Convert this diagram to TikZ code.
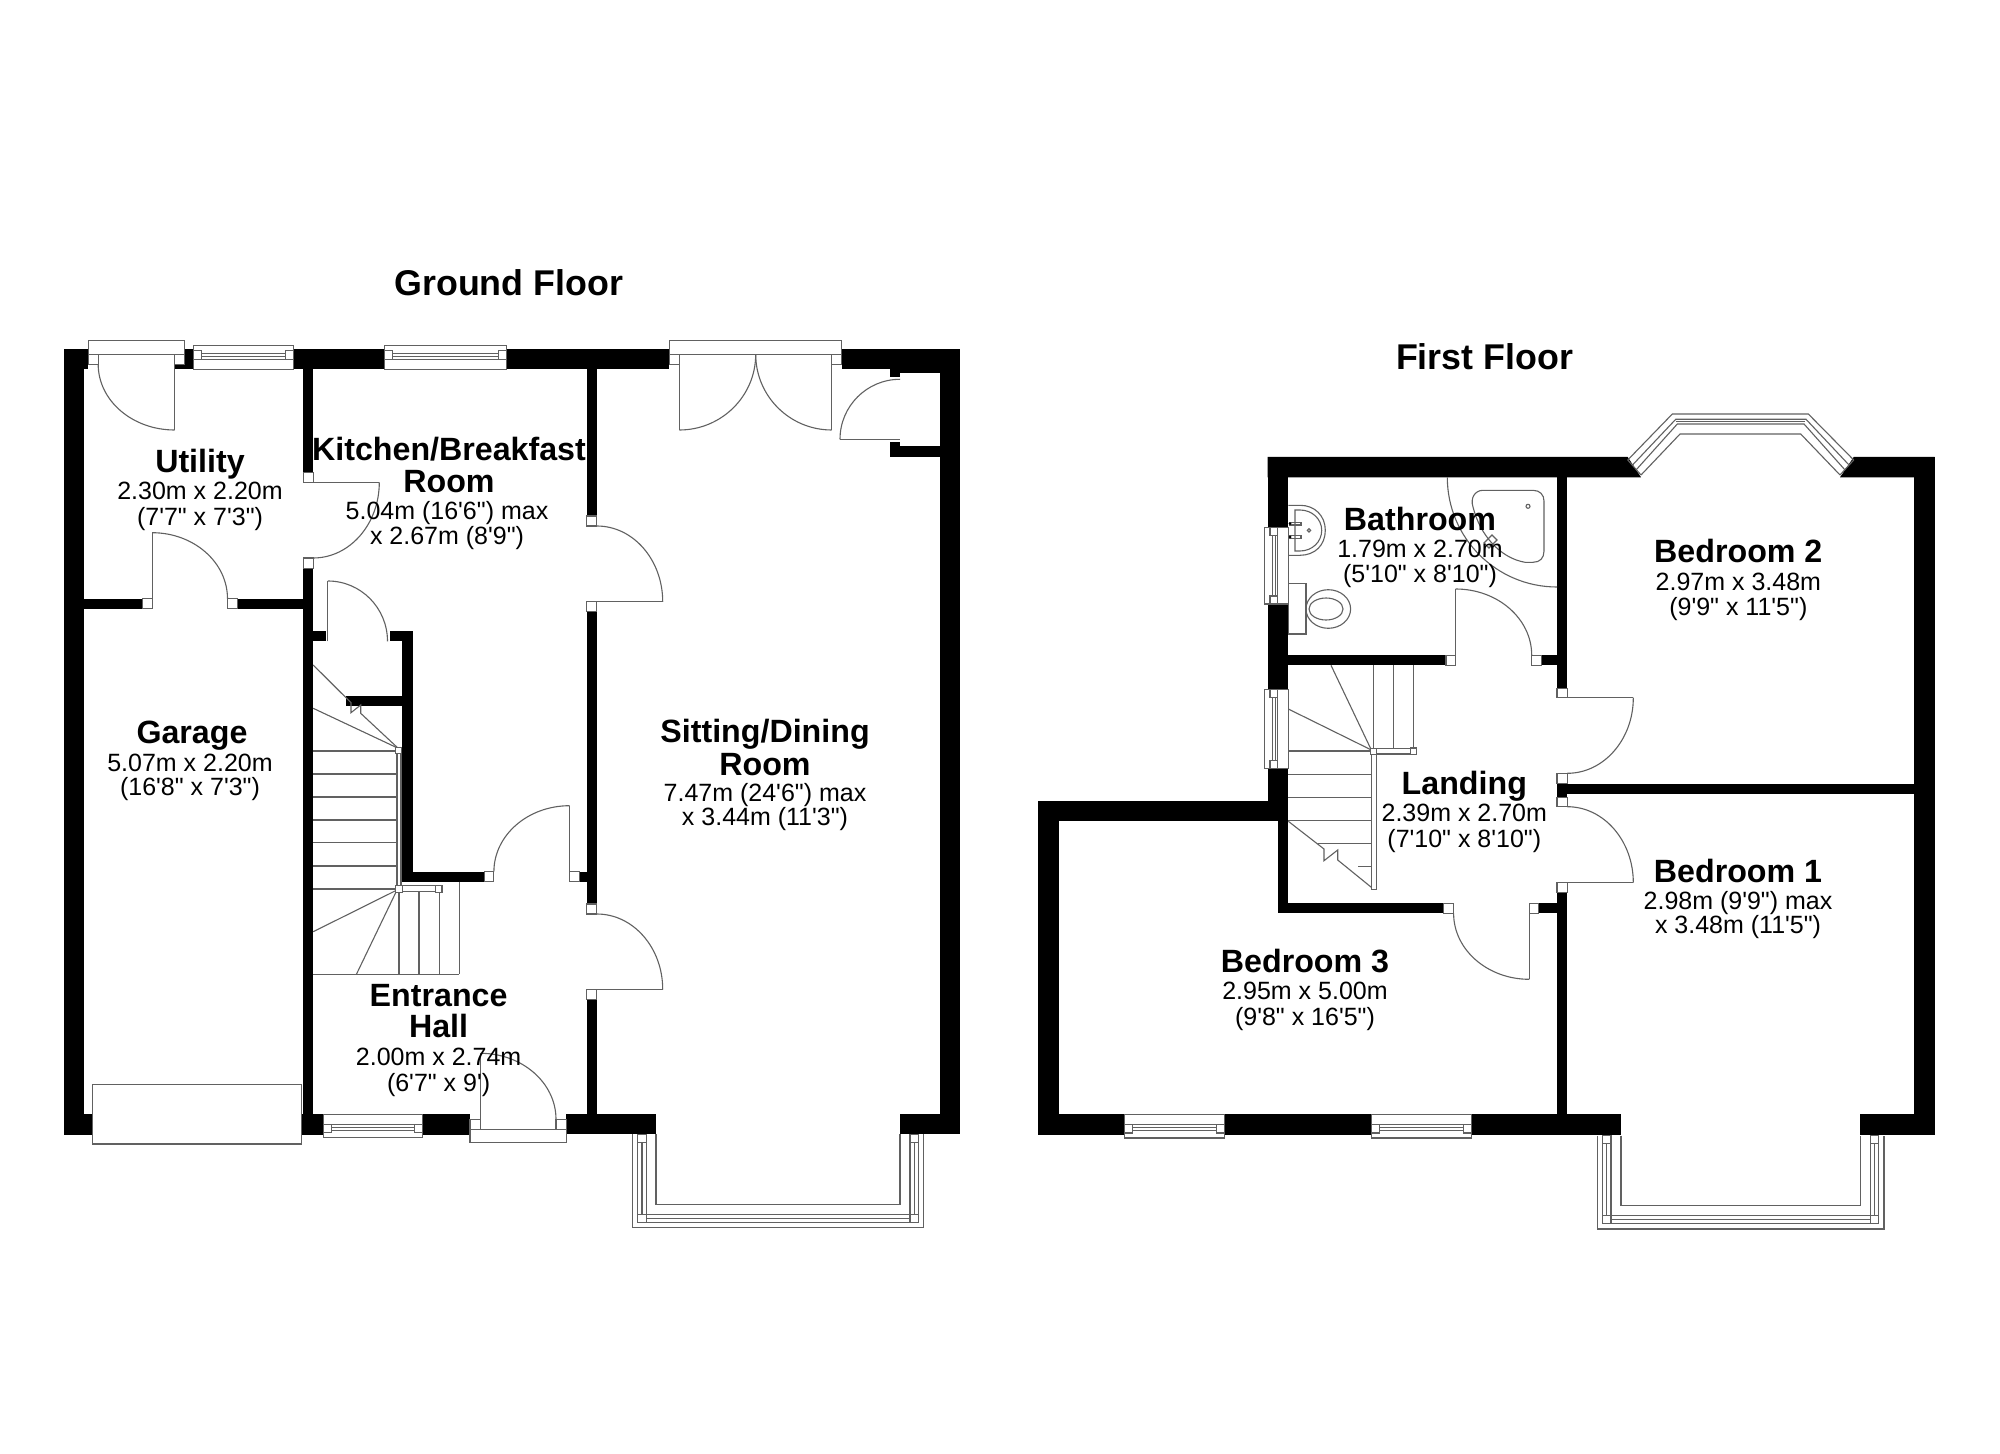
\documentclass[tikz,border=0pt]{standalone}
\usepackage{fontspec}
\usetikzlibrary{calc}
\newfontfamily\planfont{Liberation Sans}
\tikzset{
  ln/.style={draw=black!62,line width=0.55pt,line join=miter},
  lnw/.style={ln,fill=white},
  head/.style={anchor=base,inner sep=0pt,font=\planfont\bfseries\fontsize{16.1}{18}\selectfont},
  titl/.style={anchor=base,inner sep=0pt,font=\planfont\bfseries\fontsize{17.9}{20}\selectfont},
  det/.style={anchor=base,inner sep=0pt,font=\planfont\fontsize{12.5}{14}\selectfont},
}
\newcommand\Wl[4]{\fill[black] (#1,#2) rectangle (#3,#4);}
\newcommand\Sq[4]{\draw[lnw] (#1,#2) rectangle (#3,#4);}
\newcommand\Qarc[6]{\draw[ln] (#1,#2) .. controls ($(#1,#2)!0.5523!(#5,#6)$) and ($(#3,#4)!0.5523!(#5,#6)$) .. (#3,#4);}
\newcommand\Li[4]{\draw[ln] (#1,#2) -- (#3,#4);}
% horizontal window: x0, length, outer y, direction
\newcommand\HWin[4]{\begin{scope}[shift={(#1,#3)},yscale=#4]
  \draw[lnw] (0,0) rectangle (#2,23.6);
  \draw[ln] (0,13.6) -- (#2,13.6);
  \draw[lnw] (0,5) rectangle (8,13.6);
  \draw[lnw] (#2-8,5) rectangle (#2,13.6);
  \draw[ln] (8,7.4) -- (#2-8,7.4) (8,10.6) -- (#2-8,10.6);
\end{scope}}
% vertical window: outer x, y0, length
\newcommand\VWin[3]{\begin{scope}[shift={(#1,#2)}]
  \draw[lnw] (0,0) rectangle (24,#3);
  \draw[ln] (13.3,0) -- (13.3,#3);
  \draw[lnw] (5.7,0) rectangle (13.3,8);
  \draw[lnw] (5.7,#3-8) rectangle (13.3,#3);
  \draw[ln] (7.9,8) -- (7.9,#3-8) (11.1,8) -- (11.1,#3-8);
\end{scope}}
% bay window below the wall
\newcommand\Bay[9]{%
  % #1 out L, #2 mid1 L, #3 mid2 L, #4 in L, #5 in R, #6 mid2 R, #7 mid1 R, #8 out R, #9 top y
  \draw[ln] (#1,#9) -- (#1,#9+93.5) -- (#8,#9+93.5) -- (#8,#9);
  \draw[ln] (#4,#9) -- (#4,#9+70) -- (#5,#9+70) -- (#5,#9);
  \draw[ln] (#2,#9) -- (#2,#9+88) -- (#7,#9+88) -- (#7,#9);
  \draw[ln] (#3,#9) -- (#3,#9+80) -- (#6,#9+80) -- (#6,#9);
  \draw[ln] (#2/2+#3/2,#9+8) -- (#2/2+#3/2,#9+80);
  \draw[ln] (#6/2+#7/2,#9+8) -- (#6/2+#7/2,#9+80);
  \draw[ln] (#3,#9+84) -- (#6,#9+84);
  \draw[lnw] (#2,#9) rectangle (#3,#9+8);
  \draw[lnw] (#6,#9) rectangle (#7,#9+8);
  \draw[lnw] (#2,#9+80) rectangle (#3,#9+88);
  \draw[lnw] (#6,#9+80) rectangle (#7,#9+88);
}
\begin{document}
\begin{tikzpicture}[x=0.5pt,y=-0.5pt]
\useasboundingbox (0,0) rectangle (2000,1454);
\fill[white] (0,0) rectangle (2000,1454);

%%%%%%%%%% GROUND FLOOR walls
\Wl{63.6}{349}{83.9}{1134.7}
\Wl{63.6}{349}{88.2}{369.3}
\Wl{175}{349}{193.9}{369.3}
\Wl{293.2}{349}{384.6}{369.3}
\Wl{506.4}{349}{669.3}{369.3}
\Wl{841.7}{349}{960}{369.3}
\Wl{900}{349}{960}{372.7}
\Wl{890}{369}{900}{377.3}
\Wl{890}{441.7}{900}{456.7}
\Wl{890}{446.3}{939.7}{456.7}
\Wl{939.7}{349}{960}{1134.3}
\Wl{303.2}{349}{313.2}{472.7}
\Wl{303.2}{568.3}{313.2}{1134.7}
\Wl{83.9}{598.7}{142.5}{608.7}
\Wl{237.5}{598.7}{303.2}{608.7}
\Wl{313.2}{631}{325.7}{641.3}
\Wl{389.6}{631}{412.5}{641.3}
\Wl{401.8}{631}{412.5}{881.7}
\Wl{346.4}{696}{401.8}{706}
\Wl{401.8}{871.7}{484.3}{881.7}
\Wl{579.6}{871.7}{590}{881.7}
\Wl{586.5}{369}{596.9}{516}
\Wl{586.5}{611.7}{596.9}{904}
\Wl{586.5}{999.3}{596.9}{1114.3}
\Wl{63.6}{1114.3}{92.9}{1134.7}
\Wl{300.7}{1114.3}{323.2}{1134.7}
\Wl{422.5}{1114.3}{470}{1134.7}
\Wl{566.4}{1114.3}{656}{1134.3}
\Wl{900}{1114.3}{960}{1134.3}

%%%%%%%%%% GROUND FLOOR doors
% utility back door
\draw[lnw] (88.2,340.7) rectangle (184.3,354.3);
\Sq{88.2}{354.3}{98.2}{364.3}
\Sq{174.6}{354.3}{184.3}{364.3}
\Li{174.6}{354.3}{174.6}{430}
\Qarc{98.2}{364.3}{174.6}{430}{98.2}{430}
% utility / kitchen door
\Sq{303.2}{472.7}{313.2}{482.3}
\Sq{303.2}{558}{313.2}{568.3}
\Li{303.2}{482.3}{379.3}{482.3}
\Qarc{379.3}{482.3}{313.2}{558}{379.3}{558}
% utility / garage door
\Sq{142.5}{598.7}{152.1}{608.7}
\Sq{227.9}{598.7}{237.5}{608.7}
\Li{152.1}{608.7}{152.1}{532.7}
\Qarc{152.1}{532.7}{227.5}{598.7}{227.5}{532.7}
% cupboard door
\Li{327.9}{641.3}{327.9}{581}
\Qarc{327.9}{581}{387.5}{641.3}{387.5}{581}
% hall cupboard door
\Sq{484.3}{871.7}{493.9}{881.7}
\Sq{569.6}{871.7}{579.6}{881.7}
\Li{569.6}{881.7}{569.6}{805.7}
\Qarc{569.6}{805.7}{493.9}{871.7}{493.9}{805.7}
% kitchen / sitting door
\Sq{586.5}{516}{596.9}{526}
\Sq{586.5}{601.7}{596.9}{611.7}
\Li{586.5}{601.7}{662.7}{601.7}
\Qarc{662.7}{601.7}{596.9}{526}{662.7}{526}
% hall / sitting door
\Sq{586.5}{904}{596.9}{914}
\Sq{586.5}{989.3}{596.9}{999.3}
\Li{586.5}{989.3}{662.7}{989.3}
\Qarc{662.7}{989.3}{596.9}{914}{662.7}{914}
% french doors
\draw[lnw] (669.3,340.7) rectangle (841.7,354.3);
\Sq{669.3}{354.3}{679.3}{364.3}
\Sq{831.7}{354.3}{841.7}{364.3}
\Li{679.3}{354.3}{679.3}{430}
\Li{831.7}{354.3}{831.7}{430}
\Qarc{679.3}{430}{755.7}{354.3}{755.7}{430}
\Qarc{831.7}{430}{755.7}{354.3}{755.7}{430}
% top-right cupboard door
\Li{840}{439.3}{900}{439.3}
\Qarc{840}{439.3}{900}{379.3}{840}{379.3}
% front door
\Sq{470}{1119.3}{480.4}{1129.3}
\Sq{556}{1119.3}{566.4}{1129.3}
\draw[lnw] (470,1129.3) rectangle (566.4,1142.3);
\Li{480.4}{1129.3}{480.4}{1053.3}
\Qarc{480.4}{1053.3}{556}{1119.3}{556}{1053.3}
% garage door
\draw[lnw] (92.9,1084.3) rectangle (301.4,1144);
% windows
\HWin{193.9}{99.3}{345.7}{1}
\HWin{384.6}{121.8}{345.7}{1}
\HWin{323.2}{99.3}{1137.9}{-1}
% bay
\Bay{632.7}{637.7}{646.3}{656}{900}{910}{918.7}{923.3}{1134.3}

% stairs, ground floor
\foreach \yy in {751,774,797,820,842.7,866,889}{\Li{313.2}{\yy}{397}{\yy}}
\draw[ln] (313.2,665) -- (351,702.7) -- (351,712.7) -- (360.7,705) -- (360.7,713.3) -- (398.2,748.3);
\Li{313.2}{708.3}{398.2}{748.3}
\Li{397}{753}{397}{886}
\Li{401}{753}{401}{886}
\Li{313.2}{931.7}{397}{890}
\Li{356.4}{974.3}{397}{890}
\Li{399}{892}{399}{974.3}
\Li{419}{892}{419}{974.3}
\Li{439.3}{892}{439.3}{974.3}
\Li{459.3}{881.7}{459.3}{974.3}
\Li{313.2}{974.3}{459.3}{974.3}
\Li{402}{885.7}{436}{885.7}
\Li{402}{891.7}{436}{891.7}
\Sq{395.7}{885.7}{402.5}{892.3}
\Sq{435.7}{885.7}{442}{892.3}
\Sq{395.7}{747.3}{401.8}{753.3}

%%%%%%%%%% FIRST FLOOR walls
\fill[black] (1267.7,457) -- (1627.7,457) -- (1641,477.3) -- (1267.7,477.3) -- cycle;
\fill[black] (1853.7,457) -- (1934.7,457) -- (1934.7,477.3) -- (1840,477.3) -- cycle;
\Wl{1267.7}{457}{1288.3}{527.3}
\Wl{1267.7}{604}{1288.3}{689.3}
\Wl{1267.7}{768.7}{1288.3}{820.7}
\Wl{1037.9}{800.7}{1288}{820.7}
\Wl{1037.9}{800.7}{1058.6}{1134.7}
\Wl{1277.9}{820}{1287.9}{913.3}
\Wl{1277.9}{903.3}{1443.6}{913.3}
\Wl{1538.9}{903.3}{1557.5}{913.3}
\Wl{1557}{477}{1567.3}{688.3}
\Wl{1288.3}{655.3}{1446}{665.3}
\Wl{1541.7}{655.3}{1557}{665.3}
\Wl{1557}{892.7}{1567.3}{1134.7}
\Wl{1557}{783.3}{1567.3}{797.3}
\Wl{1567}{784}{1914}{794.3}
\Wl{1914}{457}{1934.7}{1134.7}
\Wl{1037.9}{1114.3}{1124.6}{1134.7}
\Wl{1224.3}{1114.3}{1371.8}{1134.7}
\Wl{1471.4}{1114.3}{1621}{1134.7}
\Wl{1860.3}{1114.3}{1934.7}{1134.7}

%%%%%%%%%% FIRST FLOOR doors
% bathroom door
\Sq{1446}{655.3}{1455.7}{665.3}
\Sq{1531.7}{655.3}{1541.7}{665.3}
\Li{1455.7}{665.3}{1455.7}{589}
\Qarc{1455.7}{589}{1531.7}{655.3}{1531.7}{589}
% bedroom 2 door
\Sq{1557}{688.3}{1567.3}{697.7}
\Sq{1557}{773.3}{1567.3}{783.3}
\Li{1557}{697.7}{1633.3}{697.7}
\Qarc{1633.3}{697.7}{1567.3}{773.3}{1633.3}{773.3}
% bedroom 1 door
\Sq{1557}{797.3}{1567.3}{806.7}
\Sq{1557}{882.7}{1567.3}{892.7}
\Li{1557}{882.7}{1633.3}{882.7}
\Qarc{1633.3}{882.7}{1567.3}{806.7}{1633.3}{806.7}
% bedroom 3 door
\Sq{1443.6}{903.3}{1453.6}{913.3}
\Sq{1529.3}{903.3}{1538.9}{913.3}
\Li{1529.3}{903.3}{1529.3}{979.3}
\Qarc{1529.3}{979.3}{1453.6}{913.3}{1453.6}{979.3}
% windows
\VWin{1264.3}{527.3}{76.7}
\VWin{1264.3}{689.3}{79.4}
\HWin{1124.6}{99.7}{1138}{-1}
\HWin{1371.8}{99.6}{1138}{-1}
% front bay
\Bay{1597.3}{1602.7}{1611}{1621}{1860.3}{1870.3}{1878.7}{1884}{1135.5}
% bedroom 2 angled bay
\draw[ln] (1627.7,460) -- (1672.3,414) -- (1808.3,414) -- (1853.7,460);
\draw[ln] (1641,475) -- (1680,434) -- (1800.7,434) -- (1840,475);
\draw[ln] (1632.5,465) -- (1675.7,419.3) -- (1806,419.3) -- (1849,465);
\draw[ln] (1636,470) -- (1677.3,424) -- (1804,424) -- (1845,470);
\draw[ln] (1676,421.5) -- (1805,421.5);
\draw[ln] (1627.7,460) -- (1641,475) (1853.7,460) -- (1840,475);

% bathroom fittings
\Qarc{1447.3}{477.3}{1557}{587}{1447.3}{587}
\draw[ln] (1483,490.3) -- (1533,490.3) .. controls (1540,490.3) and (1544,495) .. (1544,501)
  -- (1544,551) .. controls (1544,558) and (1540,562.3) .. (1533,562.3)
  -- (1525,562.3) .. controls (1500,558) and (1480,535) .. (1473,507)
  .. controls (1470,498) and (1475,490.3) .. (1483,490.3);
\draw[ln] (1528,506.3) circle (2);
\draw[ln] (1484,543) -- (1489,548) -- (1497,540) -- (1492,535) -- cycle;
\draw[ln] (1288.3,505.3) -- (1300,505.3) .. controls (1315,505.3) and (1325.3,516) .. (1325.3,530.3)
  .. controls (1325.3,545) and (1315,555.3) .. (1300,555.3) -- (1288.3,555.3);
\draw[ln] (1295,510) -- (1300,510) .. controls (1312,510) and (1321.7,519) .. (1321.7,530.3)
  .. controls (1321.7,542) and (1312,551) .. (1300,551) -- (1295,551) -- cycle;
\draw[ln] (1290,522.3) rectangle (1301,525);
\draw[ln] (1290,535.7) rectangle (1301,538.4);
\fill[black] (1290,523.6) circle (1.5) (1290,537) circle (1.5);
\draw[ln] (1309,530.3) circle (1.7);
\draw[ln] (1288.3,583.7) rectangle (1306,634);
\draw[ln] (1328.3,609) ellipse (22.3 and 19.3);
\draw[ln] (1326,609) ellipse (17 and 11);

% stairs, first floor
\foreach \xx in {1373.7,1393.7,1413.7}{\Li{\xx}{665.3}{\xx}{751}}
\Li{1331}{665.3}{1371}{749.3}
\Li{1288.3}{709}{1370}{749.3}
\foreach \yy in {751,774.3,797.3,820.3}{\Li{1288.3}{\yy}{1371.3}{\yy}}
\Li{1318}{843.3}{1371.3}{843.3}
\Li{1358}{866.3}{1371.3}{866.3}
\draw[ln] (1288.3,821.3) -- (1324,849) -- (1324,860.7) -- (1337.7,850) -- (1337.7,860) -- (1371.3,887.3);
\draw[lnw] (1371.3,754.7) rectangle (1376.7,889.3);
\draw[lnw] (1376.7,748.7) rectangle (1410.3,754);
\Sq{1370.7}{748.7}{1376.7}{754.7}
\Sq{1410.3}{748}{1416.7}{754.7}

%%%%%%%%%% TEXT
\node[titl] (tg) at (508.7,295.5) {Ground Floor};
\node[titl] (tf) at (1484.5,369.5) {First Floor};

\node[head] (u1) at (200,472.5) {Utility};
\node[det] (u2) at (200,499.5) {2.30m x 2.20m};
\node[det] (u3) at (200,525) {(7'7" x 7'3")};

\node[head] (k1) at (449,460.5) {Kitchen/Breakfast};
\node[head] (k2) at (449,493) {Room};
\node[det] (k3) at (447,519.5) {5.04m (16'6") max};
\node[det] (k4) at (447,544) {x 2.67m (8'9")};

\node[head] (g1) at (192,743.5) {Garage};
\node[det] (g2) at (190,771) {5.07m x 2.20m};
\node[det] (g3) at (190,795.5) {(16'8" x 7'3")};

\node[head] (e1) at (438.6,1006) {Entrance};
\node[head] (e2) at (438.6,1037.5) {Hall};
\node[det] (e3) at (438.6,1065) {2.00m x 2.74m};
\node[det] (e4) at (438.6,1091) {(6'7" x 9')};

\node[head] (s1) at (765,742.5) {Sitting/Dining};
\node[head] (s2) at (765,775) {Room};
\node[det] (s3) at (765,801.5) {7.47m (24'6") max};
\node[det] (s4) at (765,825.5) {x 3.44m (11'3")};

\node[head] (b1) at (1420,530.5) {Bathroom};
\node[det] (b2) at (1420,557.5) {1.79m x 2.70m};
\node[det] (b3) at (1420,582.5) {(5'10" x 8'10")};

\node[head] (r21) at (1738.3,562.8) {Bedroom 2};
\node[det] (r22) at (1738.3,590) {2.97m x 3.48m};
\node[det] (r23) at (1738.3,615.5) {(9'9" x 11'5")};

\node[head] (l1) at (1464.3,794.8) {Landing};
\node[det] (l2) at (1464.3,821.5) {2.39m x 2.70m};
\node[det] (l3) at (1464.3,847) {(7'10" x 8'10")};

\node[head] (r31) at (1305,972.8) {Bedroom 3};
\node[det] (r32) at (1305,999) {2.95m x 5.00m};
\node[det] (r33) at (1305,1025) {(9'8" x 16'5")};

\node[head] (r11) at (1738,882.5) {Bedroom 1};
\node[det] (r12) at (1738,909.7) {2.98m (9'9") max};
\node[det] (r13) at (1738,933.8) {x 3.48m (11'5")};
\end{tikzpicture}
\end{document}
